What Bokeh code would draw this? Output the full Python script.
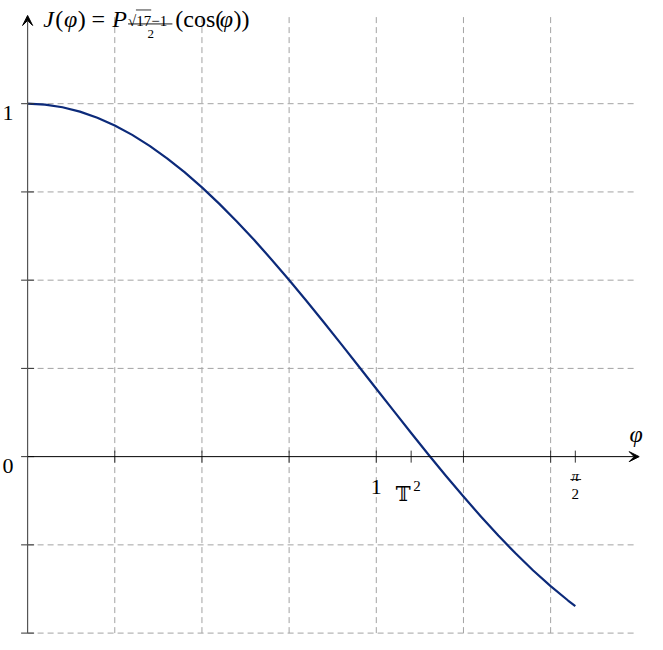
import math
from bokeh.plotting import figure
from bokeh.models import Range1d, Arrow, VeeHead
from bokeh.core.properties import value
from bokeh.embed import file_html
from bokeh.resources import INLINE

# ---- data ----
phi = [0.00, 0.05, 0.10, 0.15, 0.20, 0.25, 0.30, 0.35, 0.40, 0.45, 0.50,
       0.55, 0.60, 0.65, 0.70, 0.75, 0.80, 0.85, 0.90, 0.95, 1.00,
       1.05, 1.10, 1.15, 1.20, 1.25, 1.30, 1.35, 1.40, 1.45, 1.50,
       1.55, 1.5708]
J = [1.0000, 0.9975, 0.9900, 0.9776, 0.9603, 0.9383, 0.9117, 0.8806, 0.8453, 0.8059, 0.7628,
     0.7161, 0.6662, 0.6135, 0.5581, 0.5005, 0.4411, 0.3802, 0.3181, 0.2554, 0.1924,
     0.1295, 0.0670, 0.0055, -0.0547, -0.1132, -0.1696, -0.2236, -0.2747, -0.3227, -0.3671,
     -0.4077, -0.4234]

x_grid = [0.25, 0.5, 0.75, 1.0, 1.25, 1.5]
y_grid = [-0.5, -0.25, 0.25, 0.5, 0.75, 1.0]
y_ticks = [-0.5, -0.25, 0.0, 0.25, 0.5, 0.75, 1.0]
t2_pos = 1.10
half_pi = 1.5708
x_ticks = x_grid + [t2_pos, half_pi]
x_label_vals = [1.0]
x_label_text = ["1"]
y_label_vals = [1.0, 0.0]
y_label_text = ["1", "0"]

# ---- layout: reference pixel (X, Y) -> figure pixel ----
W, H = 647, 634
SX, SY = 0.985, 0.997
RX0, RY0 = 2.0, 11.0          # reference pixel mapped to figure pixel 0.5
ORX, ORY, UNIT = 29.0, 468.0, 354.0   # reference origin and pixels per unit

fx0 = (ORX - RX0) * SX + 0.5
fy0 = (ORY - RY0) * SY + 0.5
ux, uy = UNIT * SX, UNIT * SY

XMAX, YMIN, YMAX = 1.754, -0.5, 1.25
GRID_XEND = 1.7486

def dx(X):
    return (X - ORX) / UNIT

def dy(Y):
    return (ORY - Y) / UNIT

p = figure(width=W, height=H,
           x_range=Range1d(-fx0 / ux, (W - fx0) / ux),
           y_range=Range1d(-(H - fy0) / uy, fy0 / uy),
           output_backend="svg", toolbar_location=None,
           x_axis_location=None, y_axis_location=None, min_border=0)
p.grid.visible = False
p.outline_line_color = None

SERIF = value("Liberation Serif")
GRID_C = "#a3a3a3"

# grid
p.segment(x0=x_grid, y0=[YMIN] * len(x_grid), x1=x_grid, y1=[YMAX] * len(x_grid),
          line_color=GRID_C, line_width=1, line_dash="6 4")
p.segment(x0=[0] * len(y_grid), y0=y_grid, x1=[GRID_XEND] * len(y_grid), y1=y_grid,
          line_color=GRID_C, line_width=1, line_dash="6 4")

# curve
p.line(phi, J, line_color="#0c2a7a", line_width=2.2, line_join="round")

# axes
p.add_layout(Arrow(end=VeeHead(size=10, fill_color="black", line_color="black", line_width=1),
                   x_start=0, y_start=YMIN, x_end=0, y_end=YMAX,
                   line_color="#555555", line_width=1.2))
p.add_layout(Arrow(end=VeeHead(size=10, fill_color="black", line_color="black", line_width=1),
                   x_start=0, y_start=0, x_end=XMAX, y_end=0,
                   line_color="black", line_width=1))

# ticks
p.scatter(x=[0] * len(y_ticks), y=y_ticks, marker="dash", size=13,
          line_color="#333333", line_width=1)
p.scatter(x=x_ticks, y=[0] * len(x_ticks), marker="dash", angle=math.pi / 2, size=12,
          line_color="#333333", line_width=1)

# tick labels
p.text(x=[0] * len(y_label_vals), y=y_label_vals, text=y_label_text, x_offset=-14, y_offset=9,
       text_align="right", text_baseline="alphabetic", text_font=SERIF, text_font_size="22px",
       text_color="black")
p.text(x=x_label_vals, y=[0] * len(x_label_vals), text=x_label_text, y_offset=30,
       text_align="center", text_baseline="alphabetic", text_font=SERIF, text_font_size="22px",
       text_color="black")
# T^2 label
p.text(x=[t2_pos], y=[0], text=["\U0001D54B"], x_offset=-8, y_offset=37,
       text_align="center", text_baseline="alphabetic", text_font=value("DejaVu Serif"),
       text_font_size="20px", text_color="black")
p.text(x=[t2_pos], y=[0], text=["2"], x_offset=2, y_offset=29,
       text_align="left", text_baseline="alphabetic", text_font=SERIF,
       text_font_size="15px", text_color="black")
# pi/2 fraction label
p.text(x=[half_pi], y=[0], text=["\u03c0"], y_offset=19, text_align="center",
       text_baseline="alphabetic", text_font=SERIF, text_font_style="italic",
       text_font_size="15px", text_color="black")
p.text(x=[half_pi], y=[0], text=["2"], y_offset=37, text_align="center",
       text_baseline="alphabetic", text_font=SERIF, text_font_size="15px", text_color="black")
p.segment(x0=[dx(580)], y0=[dy(491)], x1=[dx(591)], y1=[dy(491)],
          line_color="black", line_width=0.9)

# axis label
p.text(x=[dx(640)], y=[0], text=["\u03c6"], y_offset=-23, text_align="left",
       text_baseline="alphabetic", text_font=SERIF, text_font_style="italic",
       text_font_size="24px", text_color="black")

# title: J(φ) = P_{(√17−1)/2}(cos(φ))
TY = dy(29)
pieces = [("J", 45, "italic"), ("(", 57, "normal"), ("\u03c6", 66, "italic"),
          (")", 80, "normal"), ("=", 94, "normal"), ("P", 115, "italic"),
          ("(cos(", 179, "normal"), ("\u03c6", 224, "italic"), ("))", 238, "normal")]
for txt, X, st in pieces:
    p.text(x=[dx(X)], y=[TY], text=[txt], text_align="left", text_baseline="alphabetic",
           text_font=SERIF, text_font_style=st, text_font_size="24px", text_color="black")
p.text(x=[dx(131)], y=[dy(31)], text=["\u221a17\u22121"], text_align="left",
       text_baseline="alphabetic", text_font=SERIF, text_font_size="15px", text_color="black")
p.segment(x0=[dx(139)], y0=[dy(20)], x1=[dx(154.5)], y1=[dy(20)], line_color="black",
          line_width=0.8)
p.segment(x0=[dx(131)], y0=[dy(34)], x1=[dx(176)], y1=[dy(34)], line_color="black",
          line_width=0.9)
p.text(x=[dx(154)], y=[dy(44)], text=["2"], text_align="center",
       text_baseline="alphabetic", text_font=SERIF, text_font_size="13px", text_color="black")

open("out.html", "w").write(file_html(p, INLINE))
